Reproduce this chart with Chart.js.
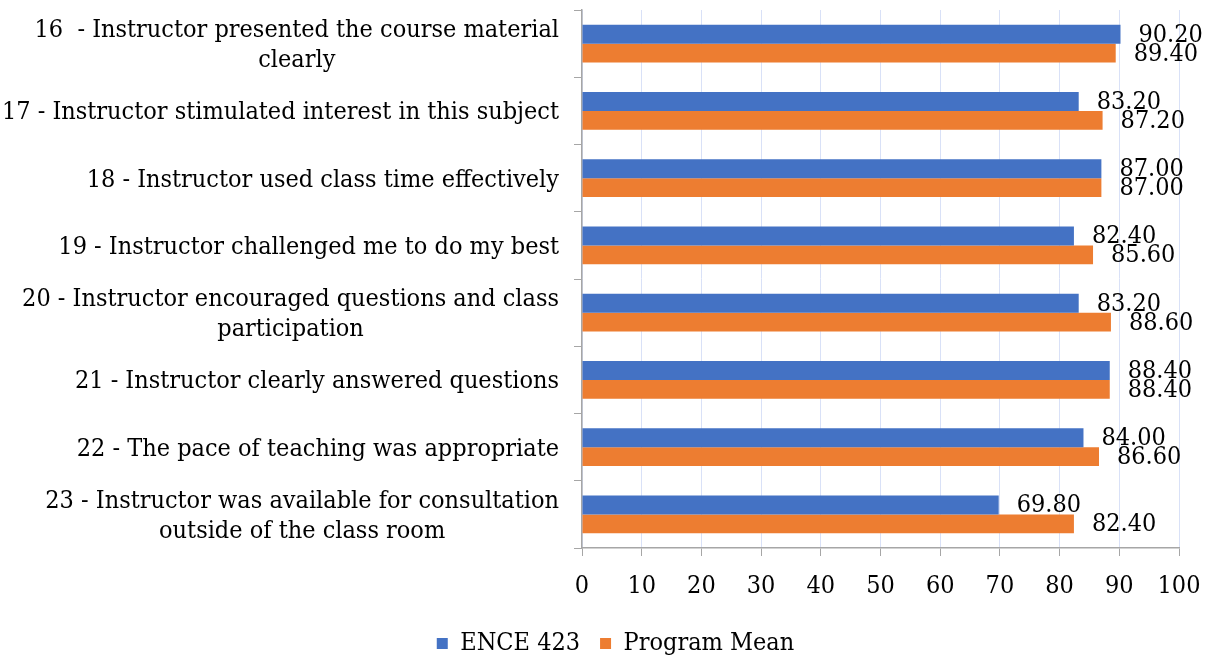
<!DOCTYPE html>
<html>
<head>
<meta charset="utf-8">
<script src="https://cdn.jsdelivr.net/npm/chart.js@4.4.1/dist/chart.umd.min.js"></script>
<style>
  html, body { margin: 0; padding: 0; background: #fff; }
  #wrap { width: 1211px; height: 661px; }
</style>
</head>
<body>
<div id="wrap"><canvas id="surveyChart" width="1211" height="661"></canvas></div>
<script>
// ===== DATA =====
const questions = [
  ["16  - Instructor presented the course material", "clearly"],
  ["17 - Instructor stimulated interest in this subject"],
  ["18 - Instructor used class time effectively"],
  ["19 - Instructor challenged me to do my best"],
  ["20 - Instructor encouraged questions and class", "participation"],
  ["21 - Instructor clearly answered questions"],
  ["22 - The pace of teaching was appropriate"],
  ["23 - Instructor was available for consultation", "outside of the class room"]
];
const courseScores = [90.2, 83.2, 87.0, 82.4, 83.2, 88.4, 84.0, 69.8];
const programMean = [89.4, 87.2, 87.0, 85.6, 88.6, 88.4, 86.6, 82.4];
const seriesNames = ["ENCE 423", "Program Mean"];
const xTicks = [0, 10, 20, 30, 40, 50, 60, 70, 80, 90, 100];

const FONT = "'DejaVu Serif Condensed', 'DejaVu Serif', serif";
const axisGray = "#A6A6A6";

// ===== VALUE LABELS =====
const valueLabels = {
  id: "valueLabels",
  afterDatasetsDraw(chart) {
    const ctx = chart.ctx;
    ctx.save();
    ctx.font = "25px " + FONT;
    ctx.fillStyle = "#000";
    ctx.textAlign = "left";
    ctx.textBaseline = "middle";
    chart.data.datasets.forEach((ds, i) => {
      chart.getDatasetMeta(i).data.forEach((bar, j) => {
        ctx.fillText(ds.data[j].toFixed(2), bar.x + 18, bar.y + 1);
      });
    });
    ctx.restore();
  }
};

// ===== CATEGORY LABELS (wrapped lines centred on each other, block right aligned) =====
const categoryLabels = {
  id: "categoryLabels",
  afterDraw(chart) {
    const ctx = chart.ctx;
    const yScale = chart.scales.y;
    const right = yScale.right - 23;
    const lineH = 30;
    ctx.save();
    ctx.font = "25px " + FONT;
    ctx.fillStyle = "#000";
    ctx.textAlign = "center";
    ctx.textBaseline = "middle";
    chart.data.labels.forEach((lines, i) => {
      const y = yScale.getPixelForValue(i) + 2;
      const w = Math.max(...lines.map(l => ctx.measureText(l).width));
      const cx = right - w / 2;
      const top = y - (lines.length - 1) * lineH / 2;
      lines.forEach((l, k) => ctx.fillText(l, cx, top + k * lineH));
    });
    ctx.restore();
  }
};

// legend sits a bit lower and right of centre in the original
const legendNudge = {
  id: "legendNudge",
  afterLayout(chart) {
    chart.legend.top += 5;
    chart.legend.bottom += 5;
    chart.legend.left += 26;
    chart.legend.right += 26;
  }
};

new Chart(document.getElementById("surveyChart"), {
  type: "bar",
  data: {
    labels: questions,
    datasets: [
      { label: seriesNames[0], data: courseScores, backgroundColor: "#4472C4" },
      { label: seriesNames[1], data: programMean, backgroundColor: "#ED7D31" }
    ]
  },
  options: {
    indexAxis: "y",
    responsive: false,
    animation: false,
    layout: { padding: { top: 10, right: 32, left: 0, bottom: 0 } },
    datasets: { bar: { categoryPercentage: 0.565, barPercentage: 1 } },
    scales: {
      x: {
        min: 0,
        max: 100,
        afterBuildTicks(scale) {
          scale.ticks = xTicks.map(v => ({ value: v }));
        },
        afterFit(scale) {
          scale.height = 58;
          scale.paddingLeft = 0;
          scale.paddingRight = 0;
        },
        grid: { color: "#D9E1F7", tickColor: axisGray, tickLength: 8 },
        border: { color: axisGray, width: 1.5 },
        ticks: { color: "#000", padding: 15, font: { size: 25, family: FONT } }
      },
      y: {
        afterFit(scale) {
          scale.width = 582;
          scale.paddingTop = 0;
          scale.paddingBottom = 0;
        },
        grid: { drawOnChartArea: false, tickColor: axisGray, tickLength: 8 },
        border: { color: axisGray, width: 1.5 },
        ticks: { display: false }
      }
    },
    plugins: {
      legend: {
        position: "bottom",
        labels: {
          color: "#000",
          boxWidth: 11,
          boxHeight: 11,
          padding: 20,
          font: { size: 25, family: FONT }
        }
      },
      tooltip: { enabled: false }
    }
  },
  plugins: [valueLabels, categoryLabels, legendNudge]
});
</script>
</body>
</html>
